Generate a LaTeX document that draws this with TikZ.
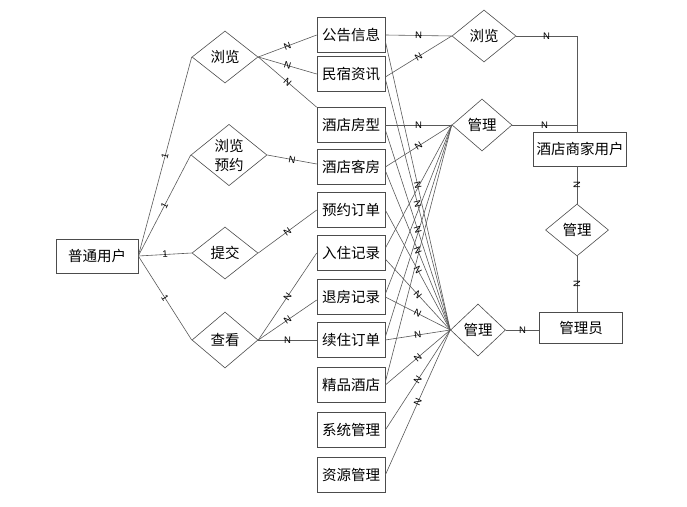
\documentclass[tikz,border=0pt]{standalone}
\usepackage{fontspec}
\setmainfont{Liberation Sans}
\newfontfamily\cjk{Noto Sans CJK SC}
\usetikzlibrary{shapes.geometric}
\begin{document}
\begin{tikzpicture}[x=1pt,y=-1pt,
  line width=0.6pt,
  ent/.style={draw=black!70, rectangle, minimum width=68pt, minimum height=35pt, inner sep=1pt, font=\cjk\fontsize{14.5}{16}\selectfont},
  rel/.style={draw=black!70, diamond, inner sep=0pt, minimum width=66pt, minimum height=52pt, font=\cjk\fontsize{14.5}{16}\selectfont, align=center},
  conn/.style={draw=black!65},
  lab/.style={font=\fontsize{9.5}{10}\selectfont, sloped, inner sep=0pt, midway}
]
\useasboundingbox (0,0) rectangle (687,506);

% left entity
\node[ent, minimum width=82pt, minimum height=34pt] (u) at (97,256) {普通用户};

% left relations
\node[rel] (b1) at (225,57) {浏览};
\node[rel, minimum width=76pt, minimum height=60pt, font=\cjk\fontsize{14.5}{19}\selectfont] (b2) at (229,155) {浏览\\预约};
\node[rel] (b3) at (225,253) {提交};
\node[rel, minimum height=56pt] (b4) at (225,340) {查看};

% middle entities
\node[ent] (e1) at (351,35) {公告信息};
\node[ent] (e2) at (351,74) {民宿资讯};
\node[ent] (e3) at (351,125) {酒店房型};
\node[ent] (e4) at (351,167) {酒店客房};
\node[ent] (e5) at (351,210) {预约订单};
\node[ent] (e6) at (351,253) {入住记录};
\node[ent] (e7) at (351,297) {退房记录};
\node[ent] (e8) at (351,340) {续住订单};
\node[ent] (e9) at (351,385) {精品酒店};
\node[ent] (e10) at (351,430) {系统管理};
\node[ent] (e11) at (351,475) {资源管理};

% right relations
\node[rel, minimum width=64pt] (r1) at (484,36) {浏览};
\node[rel, minimum width=60pt] (r2) at (482,125) {管理};
\node[rel, minimum width=55pt] (r3) at (478,330) {管理};
\node[rel, minimum width=63pt] (r4) at (577,230) {管理};

% right entities
\node[ent, minimum width=93pt, minimum height=34pt] (s) at (580,149) {酒店商家用户};
\node[ent, minimum width=83pt, minimum height=31pt] (a) at (581,328) {管理员};

\coordinate (c1) at (577,36);
\coordinate (c2) at (577,125);

% user to relations
\draw[conn] (u.east) -- node[lab]{1} (b1.west);
\draw[conn] (u.east) -- node[lab]{1} (b2.west);
\draw[conn] (u.east) -- node[lab]{1} (b3.west);
\draw[conn] (u.east) -- node[lab]{1} (b4.west);

% left relations to entities
\draw[conn] (b1.east) -- node[lab]{N} (e1.west);
\draw[conn] (b1.east) -- node[lab]{N} (e2.west);
\draw[conn] (b1.east) -- node[lab]{N} (e3.north west);
\draw[conn] (b2.east) -- node[lab]{N} (e4.175);
\draw[conn] (b3.east) -- node[lab]{N} (e5.west);
\draw[conn] (b4.east) -- node[lab]{N} (e6.west);
\draw[conn] (b4.east) -- node[lab]{N} (e7.185);
\draw[conn] (b4.east) -- node[lab]{N} (e8.west);

% right browse
\draw[conn] (e1.east) -- node[lab]{N} (r1.west);
\draw[conn] (e2.-5) -- node[lab]{N} (r1.west);

% top manage
\draw[conn] (e3.east) -- node[lab]{N} (r2.west);
\draw[conn] (e4.east) -- node[lab]{N} (r2.west);
\draw[conn] (e6.8) -- (r2.west);
\draw[conn] (e7.5) -- (r2.west);
\draw[conn] (e8.5) -- (r2.west);
\draw[conn] (e9.5) -- (r2.west);

% bottom manage
\draw[conn] (e1.-10) -- node[lab]{N} (r3.west);
\draw[conn] (e2.-8) -- node[lab]{N} (r3.west);
\draw[conn] (e3.-8) -- node[lab]{N} (r3.west);
\draw[conn] (e4.-6) -- node[lab]{N} (r3.west);
\draw[conn] (e5.east) -- node[lab]{N} (r3.west);
\draw[conn] (e6.-10) -- node[lab]{N} (r3.west);
\draw[conn] (e7.east) -- node[lab]{N} (r3.west);
\draw[conn] (e8.east) -- node[lab]{N} (r3.west);
\draw[conn] (e9.east) -- node[lab]{N} (r3.west);
\draw[conn] (e10.east) -- node[lab]{N} (r3.west);
\draw[conn] (e11.east) -- node[lab]{N} (r3.west);

% right side
\draw[conn] (r1.east) -- node[lab]{N} (c1) -- (s.north -| c1);
\draw[conn] (r2.east) -- node[lab]{N} (c2);
\draw[conn] (s.south -| r4.north) -- node[lab]{N} (r4.north);
\draw[conn] (r4.south) -- node[lab]{N} (a.north -| r4.south);
\draw[conn] (r3.east) -- node[lab]{N} (a.west |- r3.east);
\end{tikzpicture}
\end{document}
